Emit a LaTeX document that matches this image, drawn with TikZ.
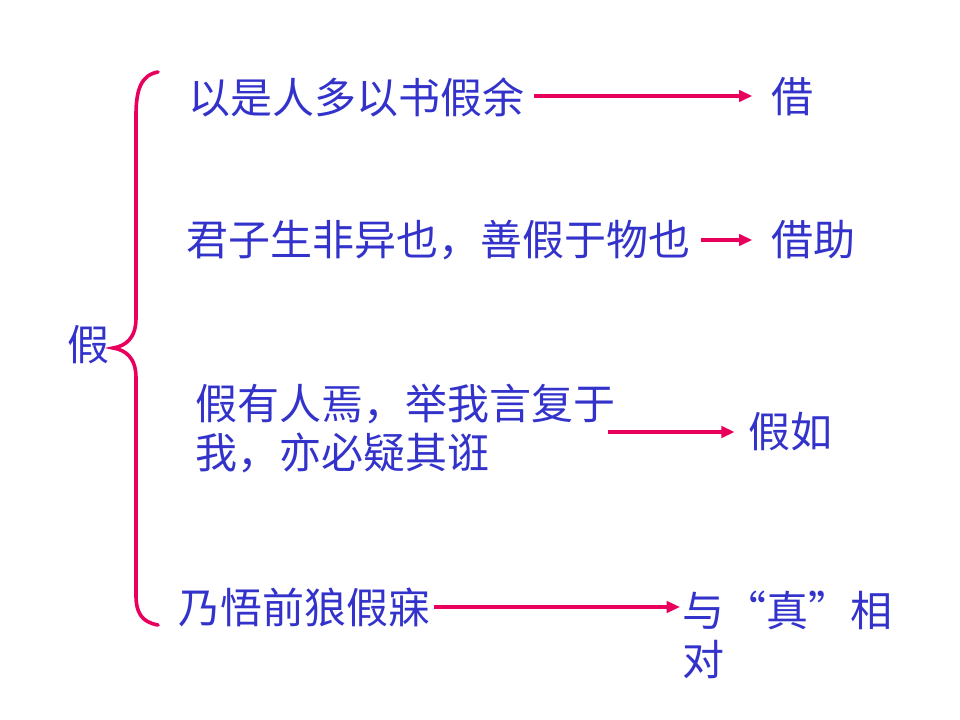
\documentclass[tikz,border=0pt]{standalone}
\usepackage{fontspec}
\newfontfamily\cjk{Noto Sans CJK SC}
\usetikzlibrary{arrows.meta}
\definecolor{txtblue}{RGB}{51,51,204}
\definecolor{linered}{RGB}{232,0,92}
\tikzset{
  lbl/.style={inner sep=0pt, outer sep=0pt, text=txtblue, font=\cjk\fontsize{31.5pt}{36.75pt}\selectfont, anchor=west},
  multi/.style={lbl, align=left},
  conn/.style={draw=linered, line width=2.7pt, -{Triangle[length=10pt,width=8.5pt]}},
  bracepath/.style={draw=linered, line width=2.7pt, line cap=round}
}
\begin{document}
\begin{tikzpicture}[x=0.75pt,y=-0.75pt]
\useasboundingbox[fill=white] (0,0) rectangle (960,720);
% root
\node[lbl] (root) at (67,345) {假};
% brace
\draw[bracepath] (158,72) .. controls (141,75) and (136,90) .. (136,115)
  -- (136,318) .. controls (136,338) and (126,346) .. (113,348)
  .. controls (126,350) and (136,358) .. (136,378)
  -- (136,595) .. controls (136,612) and (141,622) .. (158,625);
% sources
\node[lbl] (s1) at (188,97) {以是人多以书假余};
\node[lbl] (s2) at (186,240) {君子生非异也，善假于物也};
\node[multi] (s3) at (195,428) {假有人焉，举我言复于\\我，亦必疑其诳};
\node[lbl] (s4) at (178,607) {乃悟前狼假寐};
% targets
\node[lbl] (t1) at (771,97) {借};
\node[lbl] (t2) at (771,240) {借助};
\node[lbl] (t3) at (748,432) {假如};
\node[multi] (t4) at (682,635) {与\makebox[1em][r]{“}真\makebox[1em][l]{”}相\\对};
% connectors
\coordinate (a3) at (608,432);
\draw[conn, shorten <=7.5pt, shorten >=14pt] (s1.east |- 0,96) -- (t1.west |- 0,96);
\draw[conn, shorten <=8pt, shorten >=14pt] (s2.east |- 0,240) -- (t2.west |- 0,240);
\draw[conn, shorten >=10pt] (a3) -- (t3.west |- a3);
\draw[conn, shorten <=3pt, shorten >=1.5pt] (s4.east |- 0,607) -- (t4.west |- 0,607);
\end{tikzpicture}
\end{document}
